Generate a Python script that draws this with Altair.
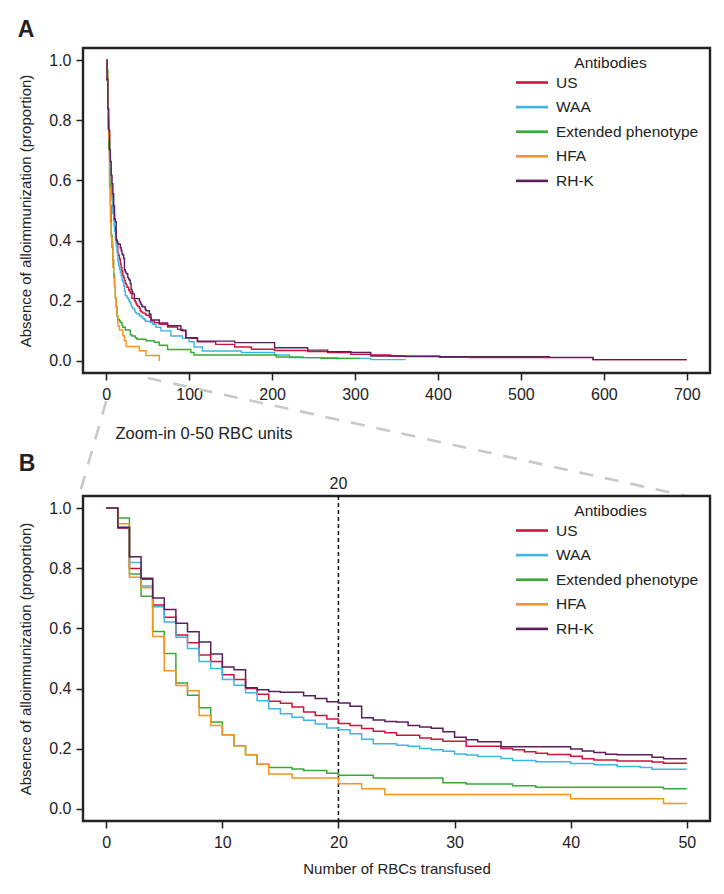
import altair as alt
import pandas as pd

SERIES = ["US", "WAA", "Extended phenotype", "HFA", "RH-K"]
COLORS = ["#CF1339", "#3FB4E6", "#38AA35", "#F7941E", "#5A1E5D"]

# ---- step points, 0-50 RBC units ----
us_x = [0, 1, 2, 3, 4, 5, 6, 7, 8, 9, 10, 11, 12, 13, 14, 15, 16, 17, 18, 19, 20, 21, 22, 23, 24, 25,
        27, 28, 29, 31, 34, 35, 36, 37, 38, 40, 41, 42, 44, 47, 48]
us_y = [1.0, 0.933, 0.799, 0.763, 0.678, 0.637, 0.578, 0.552, 0.512, 0.49,
        0.446, 0.43, 0.40, 0.381, 0.358, 0.351, 0.339, 0.322, 0.311, 0.299,
        0.284, 0.277, 0.267, 0.258, 0.253, 0.245,
        0.236, 0.232, 0.225, 0.208, 0.201, 0.197, 0.19, 0.185, 0.181, 0.175, 0.167, 0.163, 0.159, 0.156, 0.152]

waa_x = [0, 1, 2, 3, 4, 5, 6, 7, 8, 9, 10, 11, 12, 13, 14, 15, 16, 17, 18, 19, 20, 21, 22, 23,
         25, 26, 27, 28, 29, 30, 31, 32, 34, 35, 37, 40, 42, 44, 46, 47]
waa_y = [1.0, 0.935, 0.819, 0.741, 0.672, 0.621, 0.571, 0.533, 0.49, 0.467,
         0.43, 0.411, 0.386, 0.36, 0.333, 0.316, 0.305, 0.295, 0.282, 0.269,
         0.263, 0.25, 0.232, 0.217,
         0.212, 0.208, 0.201, 0.197, 0.192, 0.183, 0.179, 0.174, 0.168, 0.161, 0.157, 0.151, 0.147, 0.141, 0.138, 0.132]

ext_x = [0, 1, 2, 3, 4, 5, 6, 7, 8, 9, 10, 11, 12, 13, 14, 16, 17, 19, 20, 23, 29, 31, 35, 37, 48]
ext_y = [1.0, 0.967, 0.781, 0.707, 0.59, 0.517, 0.419, 0.378, 0.336, 0.289, 0.247, 0.21, 0.18, 0.149,
         0.138, 0.133, 0.128, 0.119, 0.112, 0.103, 0.087, 0.083, 0.077, 0.072, 0.067]

hfa_x = [0, 1, 2, 3, 4, 5, 6, 7, 8, 9, 10, 11, 12, 13, 14, 16, 20, 22, 24, 40, 48]
hfa_y = [1.0, 0.948, 0.77, 0.735, 0.573, 0.459, 0.41, 0.393, 0.311, 0.277, 0.247, 0.21, 0.18, 0.149,
         0.116, 0.103, 0.084, 0.067, 0.048, 0.034, 0.018]

rhk_x = [0, 1, 2, 3, 4, 5, 6, 7, 8, 9, 10, 11, 12, 13, 14, 15,
         17, 18, 19, 20, 21, 22, 23, 24, 25, 26, 27, 28, 29, 30, 31, 32,
         34, 40, 41, 42, 43, 44, 47, 48]
rhk_y = [1.0, 0.936, 0.838, 0.767, 0.701, 0.663, 0.617, 0.589, 0.555, 0.515,
         0.472, 0.463, 0.403, 0.396, 0.39, 0.388,
         0.376, 0.367, 0.356, 0.352, 0.341, 0.303, 0.296, 0.291, 0.289, 0.277, 0.272, 0.268, 0.257, 0.238, 0.23, 0.223,
         0.207, 0.199, 0.193, 0.188, 0.182, 0.18, 0.172, 0.167]

# ---- step points beyond 50 units ----
us_tail_x = [52, 54, 58, 64, 74, 86, 92, 96, 110, 132, 155, 175, 203, 243, 267, 295, 319, 343, 402, 438, 587]
us_tail_y = [0.145, 0.133, 0.127, 0.122, 0.113, 0.105, 0.1, 0.075, 0.064, 0.055,
             0.0465, 0.039, 0.035, 0.031, 0.028, 0.022, 0.02, 0.0166, 0.0124, 0.011, 0.0045]
waa_tail_x = [53, 56, 60, 66, 78, 92, 100, 106, 116, 163, 203, 221, 279, 319]
waa_tail_y = [0.128, 0.122, 0.112, 0.1, 0.083, 0.075, 0.064, 0.0465, 0.033, 0.028, 0.02, 0.011, 0.0085, 0.0044]
ext_tail_x = [58, 64, 74, 102, 106, 205, 237, 259]
ext_tail_y = [0.062, 0.052, 0.038, 0.028, 0.02, 0.013, 0.011, 0.0085]
hfa_tail_x = [64]
hfa_tail_y = [0.0]
rhk_tail_x = [52, 54, 64, 74, 90, 96, 110, 155, 203, 243, 267, 295, 319, 360, 534, 587]
rhk_tail_y = [0.155, 0.136, 0.126, 0.117, 0.102, 0.077, 0.066, 0.061, 0.044, 0.036,
              0.031, 0.028, 0.0166, 0.0144, 0.012, 0.0045]
last_unit = [700, 361, 306, None, 700]

XA_TICKS = [0, 100, 200, 300, 400, 500, 600, 700]
XB_TICKS = [0, 10, 20, 30, 40, 50]
Y_TICKS = [0.0, 0.2, 0.4, 0.6, 0.8, 1.0]
CUT = 20

heads = [(us_x, us_y), (waa_x, waa_y), (ext_x, ext_y), (hfa_x, hfa_y), (rhk_x, rhk_y)]
tails = [(us_tail_x, us_tail_y), (waa_tail_x, waa_tail_y), (ext_tail_x, ext_tail_y),
         (hfa_tail_x, hfa_tail_y), (rhk_tail_x, rhk_tail_y)]

rows_a, rows_b = [], []
for name, (hx, hy), (tx, ty), end in zip(SERIES, heads, tails, last_unit):
    for x, y in zip(hx, hy):
        rows_b.append({"series": name, "x": x, "y": y})
    rows_b.append({"series": name, "x": 50, "y": hy[-1]})
    xs = hx + tx
    ys = hy + ty
    for x, y in zip(xs, ys):
        rows_a.append({"series": name, "x": x, "y": y})
    if end is not None:
        rows_a.append({"series": name, "x": end, "y": ys[-1]})
df_a = pd.DataFrame(rows_a)
df_b = pd.DataFrame(rows_b)

# ---- layout ----
W = 627
H = 325
SPACING = 123
XA_DOM = [-28, 728]
XB_DOM = [-2, 52]
Y_DOM = [-0.04, 1.04]

LABEL_FONT = "Liberation Sans"
TITLE_FONT = "Liberation Sans"
INK = "#222222"


def px_a(v):
    return (v - XA_DOM[0]) / (XA_DOM[1] - XA_DOM[0]) * W


def px_b(v):
    return (v - XB_DOM[0]) / (XB_DOM[1] - XB_DOM[0]) * W


one = pd.DataFrame({"k": [0]})


def legend():
    return alt.Legend(
        title="Antibodies", orient="none", direction="vertical", legendX=439.5, legendY=8,
        titleFont=LABEL_FONT, titleFontSize=15.5, titleFontWeight="normal", titleColor=INK,
        titleAnchor="middle", titlePadding=1.5,
        labelFont=LABEL_FONT, labelFontSize=15.5, labelColor=INK, labelOffset=14.5,
        symbolType="M-2,0H2", symbolSize=256, symbolStrokeWidth=2.6, rowPadding=6.6, padding=0,
    )


def y_enc():
    return alt.Y("y:Q", scale=alt.Scale(domain=Y_DOM, nice=False, zero=False),
                 axis=alt.Axis(values=Y_TICKS, format=".1f",
                               title="Absence of alloimmunization (proportion)"))


color_a = alt.Color("series:N", scale=alt.Scale(domain=SERIES, range=COLORS), legend=legend())
color_b = alt.Color("series:N", scale=alt.Scale(domain=SERIES, range=COLORS), legend=legend())

lines_a = alt.Chart(df_a).mark_line(interpolate="step-after", strokeWidth=1.4).encode(
    x=alt.X("x:Q", scale=alt.Scale(domain=XA_DOM, nice=False, zero=False),
            axis=alt.Axis(values=XA_TICKS, title=None)),
    y=y_enc(),
    color=color_a,
    detail="series:N",
)

text_style = dict(font=LABEL_FONT, color=INK)
label_a = alt.Chart(one).mark_text(text="A", fontSize=23, fontWeight="bold", align="center",
                                   baseline="middle", **text_style).encode(
    x=alt.value(-57), y=alt.value(-18))
zoom_note = alt.Chart(one).mark_text(text="Zoom-in 0-50 RBC units", fontSize=16.5, align="left",
                                     baseline="middle", **text_style).encode(
    x=alt.value(32.5), y=alt.value(H + 61))
conn_style = dict(color="#C9C9C9", strokeWidth=2.6, strokeDash=[14, 12])
conn_left = alt.Chart(one).mark_rule(**conn_style).encode(
    x=alt.value(px_a(0)), y=alt.value(H + 28),
    x2=alt.value(px_b(XB_DOM[0]) - 4), y2=alt.value(H + SPACING))
conn_right = alt.Chart(one).mark_rule(**conn_style).encode(
    x=alt.value(px_a(50)), y=alt.value(H + 5),
    x2=alt.value(px_b(50)), y2=alt.value(H + SPACING))

panel_a = alt.layer(conn_left, conn_right, lines_a, label_a, zoom_note).properties(width=W, height=H)

lines_b = alt.Chart(df_b).mark_line(interpolate="step-after", strokeWidth=1.5).encode(
    x=alt.X("x:Q", scale=alt.Scale(domain=XB_DOM, nice=False, zero=False),
            axis=alt.Axis(values=XB_TICKS, title="Number of RBCs transfused")),
    y=y_enc(),
    color=color_b,
    detail="series:N",
)
cut_rule = alt.Chart(one).mark_rule(color="#111111", strokeWidth=1.5, strokeDash=[4, 3]).encode(
    x=alt.datum(CUT))
cut_label = alt.Chart(one).mark_text(text=str(CUT), fontSize=16, align="center", baseline="middle",
                                     **text_style).encode(x=alt.datum(CUT), y=alt.value(-12))
label_b = alt.Chart(one).mark_text(text="B", fontSize=23, fontWeight="bold", align="center",
                                   baseline="middle", **text_style).encode(
    x=alt.value(-56), y=alt.value(-32))

panel_b = alt.layer(cut_rule, lines_b, cut_label, label_b).properties(width=W, height=H)

chart = alt.vconcat(
    panel_a, panel_b, spacing=SPACING, bounds="flush",
    padding={"left": 8, "top": 9, "right": 4, "bottom": 4},
).resolve_scale(
    x="independent", y="independent", color="independent"
).resolve_legend(
    color="independent"
).configure_view(
    stroke=INK, strokeWidth=2.4
).configure_axis(
    domain=False, grid=False,
    labelFont=LABEL_FONT, labelFontSize=16, labelColor=INK, labelPadding=5,
    tickColor=INK, tickWidth=1.5, tickSize=7,
    titleFont=TITLE_FONT, titleFontSize=15, titleFontWeight="normal", titleColor=INK,
).configure_axisLeft(
    titlePadding=15
).configure_axisBottom(
    titlePadding=11, labelPadding=6
)

chart.save("out.html", embed_options={"renderer": "svg", "actions": False})
